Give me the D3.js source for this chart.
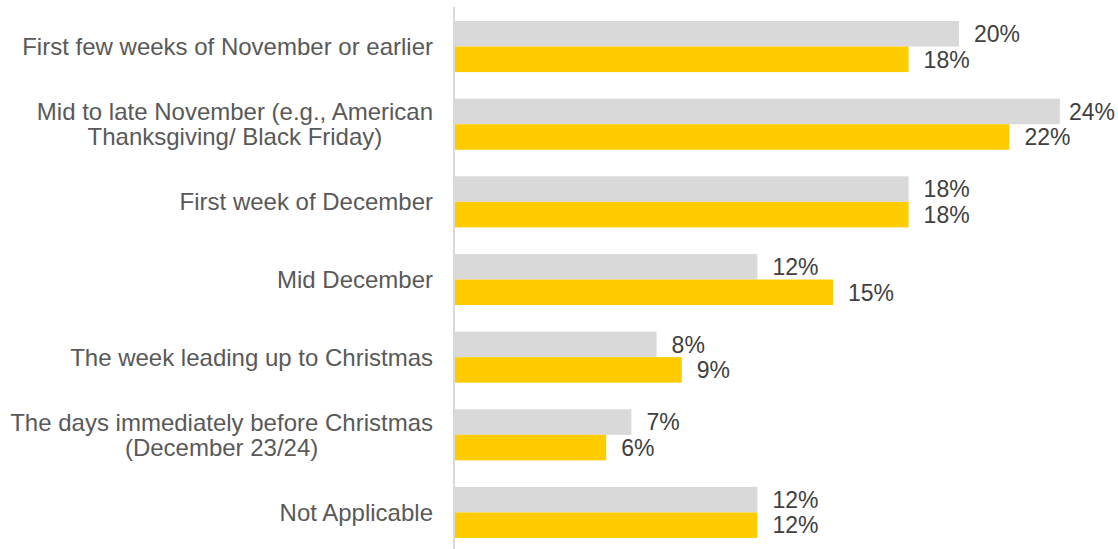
<!DOCTYPE html>
<html>
<head>
<meta charset="utf-8">
<script src="https://cdn.jsdelivr.net/npm/d3@7"></script>
<style>
  html, body { margin: 0; padding: 0; background: #ffffff; }
  svg { display: block; }
</style>
</head>
<body>
<svg id="chart" width="1118" height="549"></svg>
<script>
// Timing of holiday shopping — two survey series per timing option (values in %)
const categories = [
  ["First few weeks of November or earlier"],
  ["Mid to late November (e.g., American", "Thanksgiving/ Black Friday)"],
  ["First week of December"],
  ["Mid December"],
  ["The week leading up to Christmas"],
  ["The days immediately before Christmas", "(December 23/24)"],
  ["Not Applicable"]
];
const series1 = [20, 24, 18, 12, 8, 7, 12];   // grey bars
const series2 = [18, 22, 18, 15, 9, 6, 12];   // yellow bars
const seriesKeys = ["series1", "series2"];
const seriesColors = ["#d9d9d9", "#ffcc00"];
const valueFormat = v => v + "%";

const width = 1118;
const svg = d3.select("#chart");
const fontFamily = "'Liberation Sans', Arial, sans-serif";

const axisX = 454;
const x = d3.scaleLinear().domain([0, 25]).range([axisX + 1, axisX + 1 + 25 * 25.2]);

const catIndex = d3.range(categories.length);
const y = d3.scaleBand()
  .domain(catIndex)
  .range([21, 538])
  .paddingInner(0.342)
  .paddingOuter(0);

const ySub = d3.scaleBand()
  .domain(seriesKeys)
  .range([0, y.bandwidth()]);

const color = d3.scaleOrdinal().domain(seriesKeys).range(seriesColors);

const rows = catIndex.map(i => ({
  i,
  values: [
    { key: "series1", value: series1[i] },
    { key: "series2", value: series2[i] }
  ]
}));

// Bars
const groups = svg.append("g")
  .selectAll("g")
  .data(rows)
  .join("g")
  .attr("transform", d => `translate(0,${y(d.i)})`);

groups.selectAll("rect")
  .data(d => d.values)
  .join("rect")
  .attr("x", x(0))
  .attr("y", d => ySub(d.key))
  .attr("width", d => x(d.value) - x(0))
  .attr("height", ySub.bandwidth())
  .attr("fill", d => color(d.key));

// Value labels (kept inside the drawing area when a bar runs long)
groups.selectAll("text")
  .data(d => d.values)
  .join("text")
  .attr("y", d => ySub(d.key) + ySub.bandwidth() / 2)
  .attr("dy", "0.36em")
  .attr("font-family", fontFamily)
  .attr("font-size", 23)
  .attr("fill", "#404040")
  .text(d => valueFormat(d.value))
  .attr("x", function(d) {
    const w = this.getComputedTextLength();
    return Math.min(x(d.value) + 15, width - 3 - w);
  });

// Vertical category axis line
svg.append("line")
  .attr("x1", axisX).attr("x2", axisX)
  .attr("y1", 7).attr("y2", 549)
  .attr("stroke", "#d9d9d9")
  .attr("stroke-width", 2);

// Category labels: lines centred on one another, block right-aligned to the axis
const labelRight = 433;
const lineHeight = 25;
const labels = svg.append("g")
  .selectAll("text")
  .data(rows)
  .join("text")
  .attr("font-family", fontFamily)
  .attr("font-size", 24)
  .attr("fill", "#595959")
  .attr("text-anchor", "middle");

labels.each(function(d) {
  const lines = categories[d.i];
  const t = d3.select(this);
  const cy = y(d.i) + y.bandwidth() / 2;
  const firstBase = cy - (lines.length - 1) * lineHeight / 2 + 8.5;
  lines.forEach((ln, k) => {
    t.append("tspan")
      .attr("x", 0)
      .attr("y", firstBase + k * lineHeight)
      .text(ln);
  });
  const w = this.getBBox().width;
  t.attr("transform", `translate(${labelRight - w / 2},0)`);
});
</script>
</body>
</html>
